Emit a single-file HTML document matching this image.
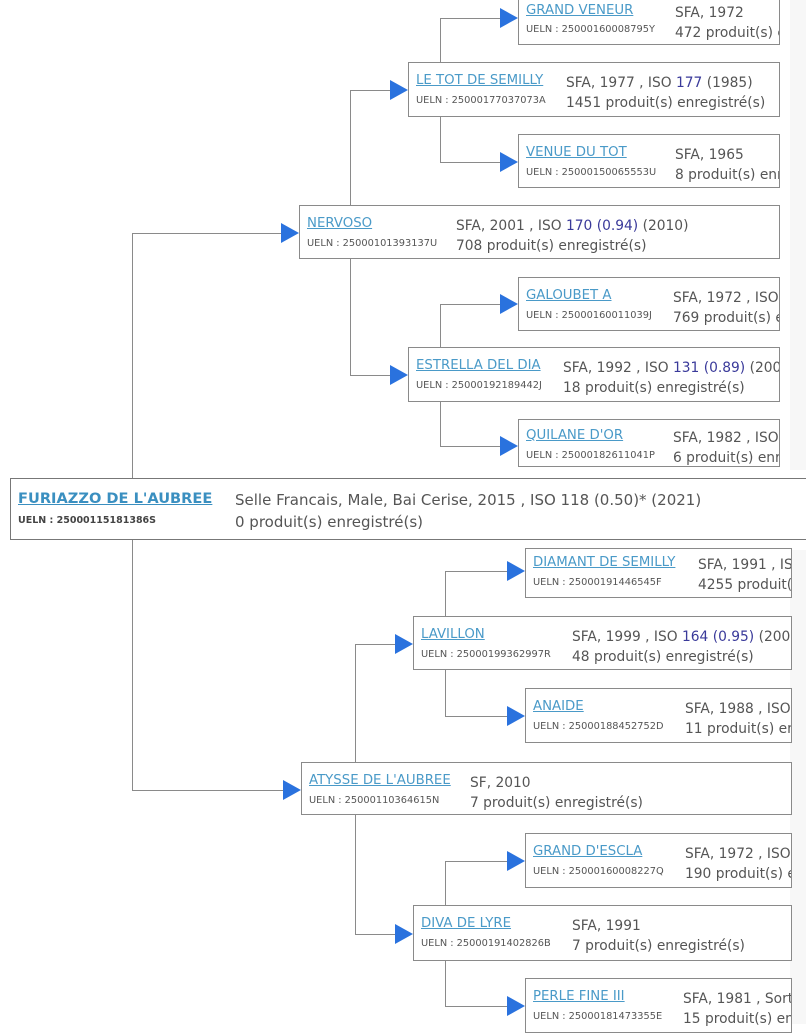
<!DOCTYPE html>
<html><head><meta charset="utf-8"><style>
body{margin:0;width:806px;height:1024px;overflow:hidden;background:#fff;position:relative;font-family:"DejaVu Sans","Liberation Sans",sans-serif}
.b{position:absolute;border:1px solid #8a8a8a;background:#fff;overflow:hidden;box-sizing:border-box}
.n{position:absolute;left:7px;top:10px;font-size:13.3px;color:#4a9ac8;text-decoration:underline;white-space:nowrap}
.u{position:absolute;left:7px;top:32px;font-size:9.8px;color:#555;white-space:nowrap}
.i{position:absolute;top:10px;font-size:13.8px;color:#555;white-space:nowrap;line-height:20px}
.i b{color:#3a3a9a;font-weight:normal}
.l{position:absolute;background:#8a8a8a}
.a{position:absolute;width:0;height:0;border-top:10px solid transparent;border-bottom:10px solid transparent;border-left:18px solid #2a72de}
</style></head><body>
<div style="position:absolute;left:790px;top:0;width:16px;height:470px;background:#f7f7f7"></div>
<div style="position:absolute;left:790px;top:550px;width:16px;height:474px;background:#f7f7f7"></div>

<!-- connectors -->
<div class="l" style="left:440px;top:18px;width:1px;height:44px"></div><div class="l" style="left:440px;top:18px;width:62px;height:1px"></div>
<div class="l" style="left:440px;top:117px;width:1px;height:45px"></div><div class="l" style="left:440px;top:162px;width:62px;height:1px"></div>
<div class="l" style="left:350px;top:90px;width:1px;height:115px"></div><div class="l" style="left:350px;top:90px;width:42px;height:1px"></div>
<div class="l" style="left:440px;top:304px;width:1px;height:43px"></div><div class="l" style="left:440px;top:304px;width:62px;height:1px"></div>
<div class="l" style="left:440px;top:402px;width:1px;height:44px"></div><div class="l" style="left:440px;top:446px;width:62px;height:1px"></div>
<div class="l" style="left:350px;top:259px;width:1px;height:116px"></div><div class="l" style="left:350px;top:375px;width:42px;height:1px"></div>
<div class="l" style="left:132px;top:233px;width:1px;height:245px"></div><div class="l" style="left:132px;top:233px;width:150px;height:1px"></div>
<div class="l" style="left:132px;top:540px;width:1px;height:250px"></div><div class="l" style="left:132px;top:790px;width:152px;height:1px"></div>
<div class="l" style="left:445px;top:571px;width:1px;height:45px"></div><div class="l" style="left:445px;top:571px;width:62px;height:1px"></div>
<div class="l" style="left:445px;top:670px;width:1px;height:46px"></div><div class="l" style="left:445px;top:716px;width:62px;height:1px"></div>
<div class="l" style="left:355px;top:644px;width:1px;height:118px"></div><div class="l" style="left:355px;top:644px;width:42px;height:1px"></div>
<div class="l" style="left:445px;top:861px;width:1px;height:44px"></div><div class="l" style="left:445px;top:861px;width:62px;height:1px"></div>
<div class="l" style="left:445px;top:961px;width:1px;height:45px"></div><div class="l" style="left:445px;top:1006px;width:62px;height:1px"></div>
<div class="l" style="left:355px;top:815px;width:1px;height:119px"></div><div class="l" style="left:355px;top:934px;width:42px;height:1px"></div>

<!-- arrows -->
<div class="a" style="left:500px;top:8px"></div>
<div class="a" style="left:390px;top:80px"></div>
<div class="a" style="left:500px;top:152px"></div>
<div class="a" style="left:281px;top:223px"></div>
<div class="a" style="left:500px;top:294px"></div>
<div class="a" style="left:390px;top:365px"></div>
<div class="a" style="left:500px;top:436px"></div>
<div class="a" style="left:507px;top:561px"></div>
<div class="a" style="left:395px;top:634px"></div>
<div class="a" style="left:507px;top:706px"></div>
<div class="a" style="left:283px;top:780px"></div>
<div class="a" style="left:507px;top:851px"></div>
<div class="a" style="left:395px;top:924px"></div>
<div class="a" style="left:507px;top:996px"></div>

<!-- top boxes -->
<div class="b" style="left:518px;top:-3px;width:262px;height:48px"><div class="n" style="top:5px">GRAND VENEUR</div><div class="u" style="top:26px">UELN : 25000160008795Y</div><div class="i" style="left:156px;top:5px">SFA, 1972<br>472 produit(s) enregistré(s)</div></div>
<div class="b" style="left:408px;top:62px;width:372px;height:55px"><div class="n">LE TOT DE SEMILLY</div><div class="u">UELN : 25000177037073A</div><div class="i" style="left:157px">SFA, 1977 , ISO <b>177</b> (1985)<br>1451 produit(s) enregistré(s)</div></div>
<div class="b" style="left:518px;top:134px;width:262px;height:54px"><div class="n">VENUE DU TOT</div><div class="u">UELN : 25000150065553U</div><div class="i" style="left:156px">SFA, 1965<br>8 produit(s) enregistré(s)</div></div>
<div class="b" style="left:299px;top:205px;width:481px;height:54px"><div class="n">NERVOSO</div><div class="u">UELN : 25000101393137U</div><div class="i" style="left:156px">SFA, 2001 , ISO <b>170 (0.94)</b> (2010)<br>708 produit(s) enregistré(s)</div></div>
<div class="b" style="left:518px;top:277px;width:262px;height:54px"><div class="n">GALOUBET A</div><div class="u">UELN : 25000160011039J</div><div class="i" style="left:154px">SFA, 1972 , ISO 173<br>769 produit(s) enregistré(s)</div></div>
<div class="b" style="left:408px;top:347px;width:372px;height:55px"><div class="n">ESTRELLA DEL DIA</div><div class="u">UELN : 25000192189442J</div><div class="i" style="left:154px">SFA, 1992 , ISO <b>131 (0.89)</b> (2003)<br>18 produit(s) enregistré(s)</div></div>
<div class="b" style="left:518px;top:419px;width:262px;height:48px"><div class="n" style="top:8px">QUILANE D'OR</div><div class="u" style="top:30px">UELN : 25000182611041P</div><div class="i" style="left:154px;top:8px">SFA, 1982 , ISO 120<br>6 produit(s) enregistré(s)</div></div>

<!-- central -->
<div class="b" style="left:10px;top:478px;width:800px;height:62px;border-color:#777"><div class="n" style="top:11px;font-size:14.6px;font-weight:bold;color:#3a8fc0">FURIAZZO DE L'AUBREE</div><div class="u" style="top:36px;font-weight:bold;font-size:9.5px;color:#444">UELN : 25000115181386S</div><div class="i" style="left:224px;top:10px;font-size:15px;line-height:22px">Selle Francais, Male, Bai Cerise, 2015 , ISO 118 (0.50)* (2021)<br>0 produit(s) enregistré(s)</div></div>

<!-- bottom boxes -->
<div class="b" style="left:525px;top:548px;width:267px;height:50px"><div class="n" style="top:6px">DIAMANT DE SEMILLY</div><div class="u" style="top:28px">UELN : 25000191446545F</div><div class="i" style="left:172px;top:6px">SFA, 1991 , ISO<br>4255 produit(s)</div></div>
<div class="b" style="left:413px;top:616px;width:379px;height:54px"><div class="n">LAVILLON</div><div class="u">UELN : 25000199362997R</div><div class="i" style="left:158px">SFA, 1999 , ISO <b>164 (0.95)</b> (2005)<br>48 produit(s) enregistré(s)</div></div>
<div class="b" style="left:525px;top:688px;width:267px;height:55px"><div class="n">ANAIDE</div><div class="u">UELN : 25000188452752D</div><div class="i" style="left:159px">SFA, 1988 , ISO<br>11 produit(s) enregistré(s)</div></div>
<div class="b" style="left:301px;top:762px;width:491px;height:53px"><div class="n">ATYSSE DE L'AUBREE</div><div class="u">UELN : 25000110364615N</div><div class="i" style="left:168px">SF, 2010<br>7 produit(s) enregistré(s)</div></div>
<div class="b" style="left:525px;top:833px;width:267px;height:55px"><div class="n">GRAND D'ESCLA</div><div class="u">UELN : 25000160008227Q</div><div class="i" style="left:159px">SFA, 1972 , ISO<br>190 produit(s) enregistré(s)</div></div>
<div class="b" style="left:413px;top:905px;width:379px;height:56px"><div class="n">DIVA DE LYRE</div><div class="u">UELN : 25000191402826B</div><div class="i" style="left:158px">SFA, 1991<br>7 produit(s) enregistré(s)</div></div>
<div class="b" style="left:525px;top:978px;width:267px;height:55px"><div class="n">PERLE FINE III</div><div class="u">UELN : 25000181473355E</div><div class="i" style="left:157px">SFA, 1981 , Sort<br>15 produit(s) enregistré(s)</div></div>
</body></html>
